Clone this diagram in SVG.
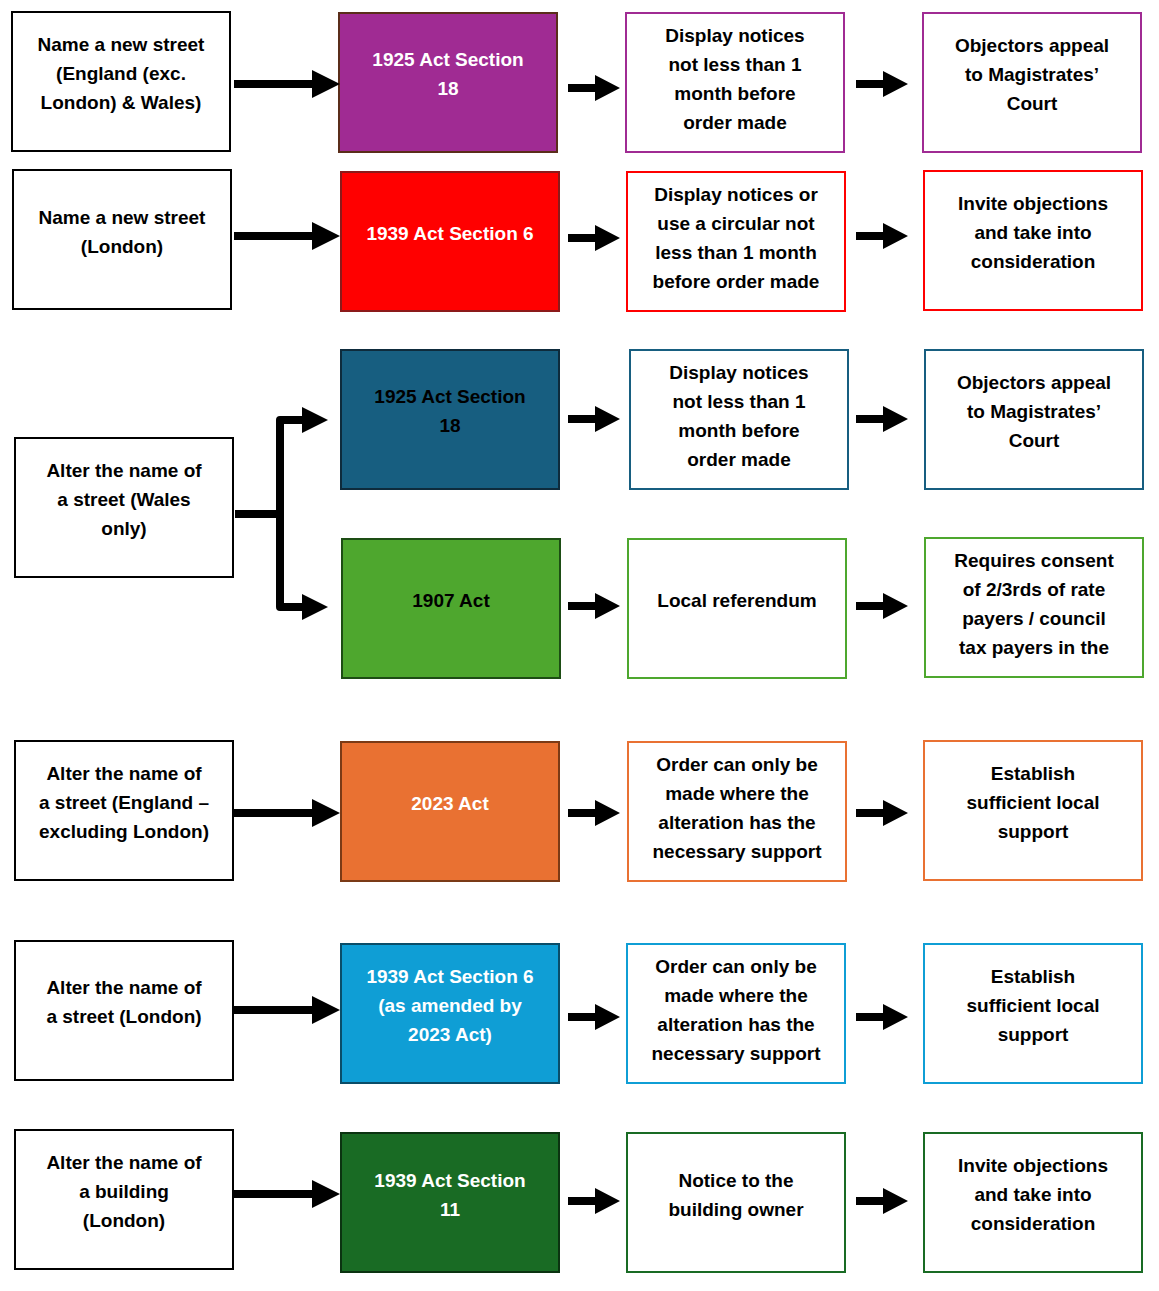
<svg xmlns="http://www.w3.org/2000/svg" width="1159" height="1291" viewBox="0 0 1159 1291">
<style>
text{font-family:"Liberation Sans",Arial,sans-serif;font-weight:bold;font-size:19px;text-anchor:middle}
.w{fill:#fff}
rect{stroke-width:2}
.b{fill:#fff;stroke:#000}
</style>
<defs>
<polygon id="la" points="0,-4 78,-4 78,-14 106,0 78,14 78,4 0,4"/>
<polygon id="sa" points="0,-4 27,-4 27,-13 52,0 27,13 27,4 0,4"/>
</defs>
<rect width="1159" height="1291" fill="#fff"/>
<g id="r1">
<g id="n1a"><rect class="b" x="12" y="12" width="218" height="139"/><text x="121" y="51">Name a new street</text><text x="121" y="80">(England (exc.</text><text x="121" y="109">London) &amp; Wales)</text></g>
<g id="n1b"><rect x="339" y="13" width="218" height="139" fill="#A02B93" stroke="#5a2d1a"/><text class="w" x="448" y="66">1925 Act Section</text><text class="w" x="448" y="95">18</text></g>
<g id="n1c"><rect x="626" y="13" width="218" height="139" fill="#fff" stroke="#A02B93"/><text x="735" y="42">Display notices</text><text x="735" y="71">not less than 1</text><text x="735" y="100">month before</text><text x="735" y="129">order made</text></g>
<g id="n1d"><rect x="923" y="13" width="218" height="139" fill="#fff" stroke="#A02B93"/><text x="1032" y="52">Objectors appeal</text><text x="1032" y="81">to Magistrates’</text><text x="1032" y="110">Court</text></g>
</g>
<g id="r2">
<g id="n2a"><rect class="b" x="13" y="170" width="218" height="139"/><text x="122" y="224">Name a new street</text><text x="122" y="253">(London)</text></g>
<g id="n2b"><rect x="341" y="172" width="218" height="139" fill="#FF0000" stroke="#8b1a1a"/><text class="w" x="450" y="240">1939 Act Section 6</text></g>
<g id="n2c"><rect x="627" y="172" width="218" height="139" fill="#fff" stroke="#FF0000"/><text x="736" y="201">Display notices or</text><text x="736" y="230">use a circular not</text><text x="736" y="259">less than 1 month</text><text x="736" y="288">before order made</text></g>
<g id="n2d"><rect x="924" y="171" width="218" height="139" fill="#fff" stroke="#FF0000"/><text x="1033" y="210">Invite objections</text><text x="1033" y="239">and take into</text><text x="1033" y="268">consideration</text></g>
</g>
<g id="r3">
<g id="n3a"><rect class="b" x="15" y="438" width="218" height="139"/><text x="124" y="477">Alter the name of</text><text x="124" y="506">a street (Wales</text><text x="124" y="535">only)</text></g>
<g id="n3b"><rect x="341" y="350" width="218" height="139" fill="#175E80" stroke="#0e2b3c"/><text x="450" y="403">1925 Act Section</text><text x="450" y="432">18</text></g>
<g id="n3c"><rect x="630" y="350" width="218" height="139" fill="#fff" stroke="#175E80"/><text x="739" y="379">Display notices</text><text x="739" y="408">not less than 1</text><text x="739" y="437">month before</text><text x="739" y="466">order made</text></g>
<g id="n3d"><rect x="925" y="350" width="218" height="139" fill="#fff" stroke="#175E80"/><text x="1034" y="389">Objectors appeal</text><text x="1034" y="418">to Magistrates’</text><text x="1034" y="447">Court</text></g>
<g id="n3e"><rect x="342" y="539" width="218" height="139" fill="#4EA72E" stroke="#1d4d14"/><text x="451" y="607">1907 Act</text></g>
<g id="n3f"><rect x="628" y="539" width="218" height="139" fill="#fff" stroke="#4EA72E"/><text x="737" y="607">Local referendum</text></g>
<g id="n3g"><rect x="925" y="538" width="218" height="139" fill="#fff" stroke="#4EA72E"/><text x="1034" y="567">Requires consent</text><text x="1034" y="596">of 2/3rds of rate</text><text x="1034" y="625">payers / council</text><text x="1034" y="654">tax payers in the</text></g>
</g>
<g id="r4">
<g id="n4a"><rect class="b" x="15" y="741" width="218" height="139"/><text x="124" y="780">Alter the name of</text><text x="124" y="809">a street (England –</text><text x="124" y="838">excluding London)</text></g>
<g id="n4b"><rect x="341" y="742" width="218" height="139" fill="#E97132" stroke="#7a3a16"/><text class="w" x="450" y="810">2023 Act</text></g>
<g id="n4c"><rect x="628" y="742" width="218" height="139" fill="#fff" stroke="#E97132"/><text x="737" y="771">Order can only be</text><text x="737" y="800">made where the</text><text x="737" y="829">alteration has the</text><text x="737" y="858">necessary support</text></g>
<g id="n4d"><rect x="924" y="741" width="218" height="139" fill="#fff" stroke="#E97132"/><text x="1033" y="780">Establish</text><text x="1033" y="809">sufficient local</text><text x="1033" y="838">support</text></g>
</g>
<g id="r5">
<g id="n5a"><rect class="b" x="15" y="941" width="218" height="139"/><text x="124" y="994">Alter the name of</text><text x="124" y="1023">a street (London)</text></g>
<g id="n5b"><rect x="341" y="944" width="218" height="139" fill="#0F9ED5" stroke="#0a4d68"/><text class="w" x="450" y="983">1939 Act Section 6</text><text class="w" x="450" y="1012">(as amended by</text><text class="w" x="450" y="1041">2023 Act)</text></g>
<g id="n5c"><rect x="627" y="944" width="218" height="139" fill="#fff" stroke="#0F9ED5"/><text x="736" y="973">Order can only be</text><text x="736" y="1002">made where the</text><text x="736" y="1031">alteration has the</text><text x="736" y="1060">necessary support</text></g>
<g id="n5d"><rect x="924" y="944" width="218" height="139" fill="#fff" stroke="#0F9ED5"/><text x="1033" y="983">Establish</text><text x="1033" y="1012">sufficient local</text><text x="1033" y="1041">support</text></g>
</g>
<g id="r6">
<g id="n6a"><rect class="b" x="15" y="1130" width="218" height="139"/><text x="124" y="1169">Alter the name of</text><text x="124" y="1198">a building</text><text x="124" y="1227">(London)</text></g>
<g id="n6b"><rect x="341" y="1133" width="218" height="139" fill="#196B24" stroke="#0b3311"/><text class="w" x="450" y="1187">1939 Act Section</text><text class="w" x="450" y="1216">11</text></g>
<g id="n6c"><rect x="627" y="1133" width="218" height="139" fill="#fff" stroke="#196B24"/><text x="736" y="1187">Notice to the</text><text x="736" y="1216">building owner</text></g>
<g id="n6d"><rect x="924" y="1133" width="218" height="139" fill="#fff" stroke="#196B24"/><text x="1033" y="1172">Invite objections</text><text x="1033" y="1201">and take into</text><text x="1033" y="1230">consideration</text></g>
</g>
<g id="connectors" fill="#000">
<use href="#la" x="234" y="84"/><use href="#sa" x="568" y="88"/><use href="#sa" x="856" y="84"/>
<use href="#la" x="234" y="236"/><use href="#sa" x="568" y="238"/><use href="#sa" x="856" y="236"/>
<polyline points="235,514 280,514" stroke="#000" stroke-width="8" fill="none"/>
<polyline points="302,420 280,420 280,607 302,607" stroke="#000" stroke-width="8" fill="none" stroke-linejoin="round"/>
<polygon points="302,407 328,420 302,433"/><polygon points="302,594 328,607 302,620"/>
<use href="#sa" x="568" y="419"/><use href="#sa" x="856" y="419"/>
<use href="#sa" x="568" y="606"/><use href="#sa" x="856" y="606"/>
<use href="#la" x="234" y="813"/><use href="#sa" x="568" y="813"/><use href="#sa" x="856" y="813"/>
<use href="#la" x="234" y="1010"/><use href="#sa" x="568" y="1017"/><use href="#sa" x="856" y="1017"/>
<use href="#la" x="234" y="1194"/><use href="#sa" x="568" y="1201"/><use href="#sa" x="856" y="1201"/>
</g>
</svg>
